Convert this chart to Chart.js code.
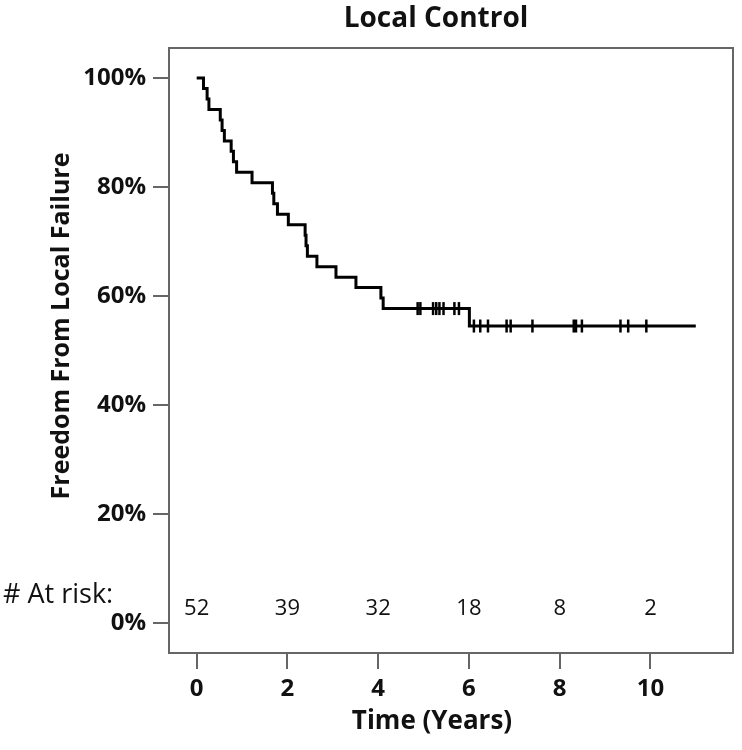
<!DOCTYPE html>
<html>
<head>
<meta charset="utf-8">
<script src="https://cdn.jsdelivr.net/npm/chart.js@4.4.1/dist/chart.umd.min.js"></script>
<style>
  html, body { margin: 0; padding: 0; background: #fff; }
  #wrap { width: 742px; height: 750px; }
</style>
</head>
<body>
<div id="wrap"><canvas id="km"></canvas></div>
<script>
// Kaplan-Meier curve (time in years, freedom in %)
var km_times = [0, 0.15, 0.23, 0.27, 0.52, 0.56, 0.61, 0.76, 0.81, 0.88, 1.22, 1.67, 1.70, 1.78,
                2.02, 2.39, 2.41, 2.44, 2.65, 3.07, 3.51, 4.06, 4.11, 6.01, 11.0];
var km_surv  = [100, 98.08, 96.15, 94.23, 92.31, 90.38, 88.46, 86.54, 84.62, 82.69, 80.77, 78.85, 76.92, 75.00,
                73.08, 71.15, 69.23, 67.31, 65.38, 63.46, 61.54, 59.62, 57.69, 54.49, 54.49];

// censored cases (tick marks)
var censor_times = [4.87, 4.93, 5.21, 5.28, 5.35, 5.44, 5.68, 5.78,
                    6.11, 6.25, 6.42, 6.83, 6.92, 7.40, 8.31, 8.36, 8.49, 9.34, 9.51, 9.91];
var censor_surv  = [57.69, 57.69, 57.69, 57.69, 57.69, 57.69, 57.69, 57.69,
                    54.49, 54.49, 54.49, 54.49, 54.49, 54.49, 54.49, 54.49, 54.49, 54.49, 54.49, 54.49];

// numbers at risk
var risk_times  = [0, 2, 4, 6, 8, 10];
var risk_counts = [52, 39, 32, 18, 8, 2];

var x_ticks = [0, 2, 4, 6, 8, 10];
var y_ticks = [0, 20, 40, 60, 80, 100];

var FONT = '"Open Sans", "DejaVu Sans", sans-serif';

function to_points(xs, ys) {
	var pts = [];
	for (var i = 0; i < xs.length; i++) {
		pts.push({x: xs[i], y: ys[i]});
	}
	return pts;
}

var extras = {
	id: 'extras',
	afterDraw: function(chart) {
		var ctx = chart.ctx;
		var a = chart.chartArea;
		var xs = chart.scales.x;

		ctx.save();
		// box round the plot
		ctx.strokeStyle = '#666';
		ctx.lineWidth = 2;
		ctx.strokeRect(a.left, a.top, a.right - a.left, a.bottom - a.top);

		ctx.fillStyle = '#111';
		ctx.textAlign = 'center';
		ctx.textBaseline = 'middle';

		ctx.font = 'bold 28px ' + FONT;
		ctx.fillText('Local Control', 436, 19);

		ctx.font = 'bold 26px ' + FONT;
		ctx.fillText('Time (Years)', 432, 722);

		ctx.save();
		ctx.translate(62, 326);
		ctx.rotate(-Math.PI / 2);
		ctx.font = 'bold 25px ' + FONT;
		ctx.fillText('Freedom From Local Failure', 0, 0);
		ctx.restore();

		ctx.font = '22px ' + FONT;
		for (var i = 0; i < risk_times.length; i++) {
			ctx.fillText(String(risk_counts[i]), xs.getPixelForValue(risk_times[i]), 609);
		}

		ctx.textAlign = 'left';
		ctx.font = '27px ' + FONT;
		ctx.fillText('# At risk:', 3, 595);
		ctx.restore();
	}
};

var ctx = document.getElementById('km');

var myChart = new Chart(ctx, {
	type: 'line',
	data: {
		datasets: [{
			label: 'Local Control',
			data: to_points(km_times, km_surv),
			stepped: 'before',
			borderColor: '#000',
			borderWidth: 3,
			pointRadius: 0,
			fill: false
		}, {
			label: 'Censored',
			data: to_points(censor_times, censor_surv),
			showLine: false,
			pointStyle: 'line',
			rotation: 90,
			pointRadius: 6.5,
			pointBorderWidth: 2.5,
			borderColor: '#000',
			backgroundColor: '#000'
		}]
	},
	options: {
		responsive: true,
		maintainAspectRatio: false,
		animation: false,
		events: [],
		layout: { padding: { left: 0, top: 48, right: 5, bottom: 0 } },
		plugins: {
			legend: { display: false },
			title: { display: false },
			tooltip: { enabled: false }
		},
		scales: {
			x: {
				type: 'linear',
				min: -0.61,
				max: 11.82,
				afterBuildTicks: function(scale) {
					scale.ticks = x_ticks.map(function(v) { return {value: v}; });
				},
				afterFit: function(scale) { scale.height = 97; },
				border: { display: false },
				grid: {
					drawOnChartArea: false,
					drawTicks: true,
					tickLength: 16,
					color: '#666',
					lineWidth: 2
				},
				ticks: {
					padding: 6,
					color: '#111',
					font: { family: FONT, size: 24, weight: 'bold' },
					callback: function(v) { return v; }
				}
			},
			y: {
				type: 'linear',
				min: -5.5,
				max: 105.5,
				afterBuildTicks: function(scale) {
					scale.ticks = y_ticks.map(function(v) { return {value: v}; });
				},
				afterFit: function(scale) { scale.width = 169; },
				border: { display: false },
				grid: {
					drawOnChartArea: false,
					drawTicks: true,
					tickLength: 16,
					color: '#666',
					lineWidth: 2
				},
				ticks: {
					padding: 7,
					color: '#111',
					font: { family: FONT, size: 24, weight: 'bold' },
					callback: function(v) { return v + '%'; }
				}
			}
		}
	},
	plugins: [extras]
});
</script>
</body>
</html>
